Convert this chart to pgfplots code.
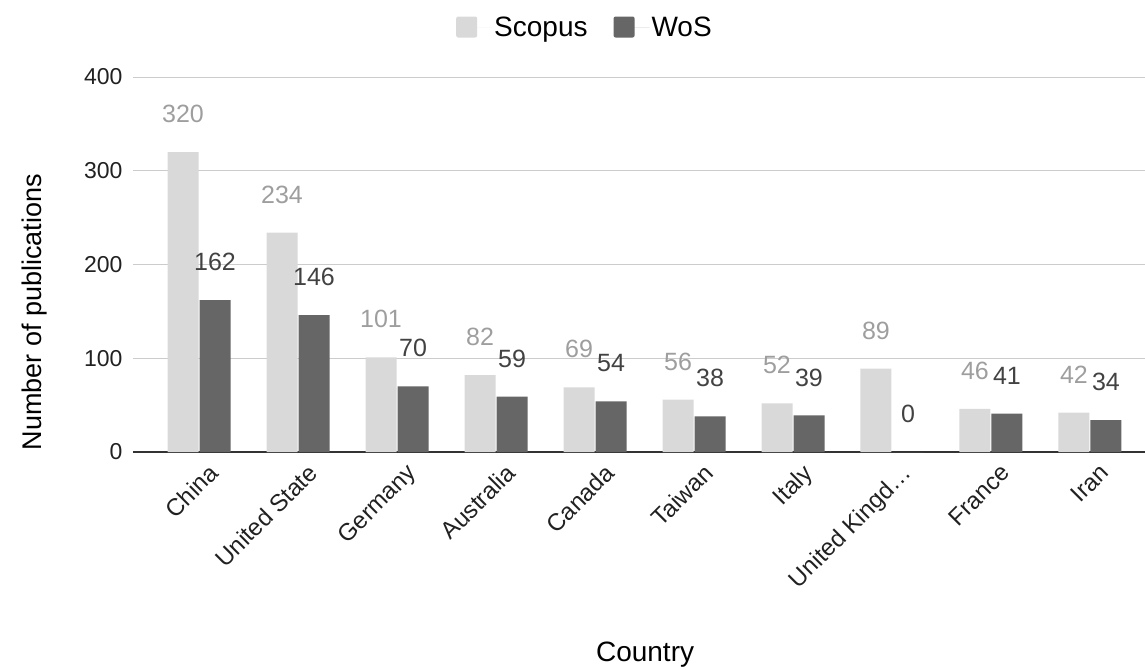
\documentclass[border=0pt]{standalone}
\usepackage{pgfplots}
\pgfplotsset{compat=1.18}
\usepackage{fontspec}
\setmainfont{Liberation Sans}
\definecolor{scop}{HTML}{D9D9D9}
\definecolor{wos}{HTML}{666666}
\definecolor{scoplab}{HTML}{9E9E9E}
\definecolor{woslab}{HTML}{424242}
\definecolor{gridc}{HTML}{CCCCCC}
\begin{document}
\begin{tikzpicture}
\useasboundingbox (-133bp,-218bp) rectangle (1012bp,452bp);
\begin{axis}[
  at={(0,0)}, anchor=south west,
  scale only axis, width=1012bp, height=375bp,
  ybar, bar width=31bp,
  ymin=0, ymax=400, ytick={0,100,200,300,400},
  xmin=-0.667, xmax=9.556,
  xtick={0,...,9},
  xticklabels={China,United State,Germany,Australia,Canada,Taiwan,Italy,United Kingd\dots,France,Iran},
  ymajorgrids, grid style={gridc, line width=1bp},
  axis x line*=bottom, axis y line*=left,
  y axis line style={draw=none},
  x axis line style={draw=black!80, line width=1.3bp, -},
  major tick length=0pt,
  /pgf/number format/assume math mode=true,
  yticklabel style={font=\fontsize{23bp}{27bp}\selectfont, text=black!87, xshift=-7bp},
  xticklabel style={font=\fontsize{24bp}{28bp}\selectfont, text=black!87, rotate=45, anchor=north east, yshift=-10bp, xshift=2bp},
  ylabel={Number of publications},
  ylabel style={font=\fontsize{27bp}{30bp}\selectfont, at={(axis description cs:-0.097,0.373)}, anchor=center},
  xlabel={Country},
  xlabel style={font=\fontsize{28bp}{32bp}\selectfont, at={(axis description cs:0.506,-0.541)}, anchor=center},
  legend style={at={(axis description cs:0.4466,1.1333)}, anchor=center, draw=none, fill=none,
    font=\fontsize{28bp}{32bp}\selectfont, legend columns=2,
    /tikz/every even column/.append style={column sep=24bp}},
  nodes near coords,
  nodes near coords style={font=\fontsize{25bp}{29bp}\selectfont},
]
\addplot[fill=scop, draw=none, bar shift=-16bp,
  legend image code/.code={\fill[scop, rounded corners=2bp] (0bp,-10.5bp) rectangle (21bp,10.5bp); \path (0bp,0bp) -- (36bp,0bp);},
  every node near coord/.append style={anchor=center, yshift=38bp, text=scoplab}]
  coordinates {(0,320) (1,234) (2,101) (3,82) (4,69) (5,56) (6,52) (7,89) (8,46) (9,42)};
\addlegendentry{Scopus}
\addplot[fill=wos, draw=none, bar shift=16bp,
  legend image code/.code={\fill[wos, rounded corners=2bp] (0bp,-10.5bp) rectangle (21bp,10.5bp); \path (0bp,0bp) -- (36bp,0bp);},
  every node near coord/.append style={anchor=center, yshift=38bp, text=woslab}]
  coordinates {(0,162) (1,146) (2,70) (3,59) (4,54) (5,38) (6,39) (7,0) (8,41) (9,34)};
\addlegendentry{WoS}
\end{axis}
\end{tikzpicture}
\end{document}
